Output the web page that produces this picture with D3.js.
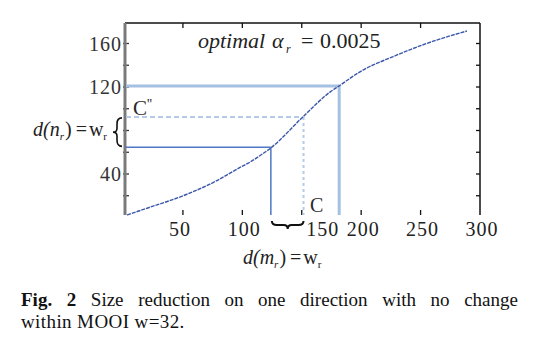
<!DOCTYPE html>
<html><head><meta charset="utf-8">
<script src="https://cdn.jsdelivr.net/npm/d3@7"></script>
<style>
body{margin:0;background:#fff;}
svg{display:block;}
text{font-family:"Liberation Serif","Times New Roman",serif;}
</style></head>
<body><svg id="c" width="535" height="350"></svg>
<script>
// ---- data ----
const curveX = [3, 21, 49, 77, 98, 105, 115, 124, 151, 174, 181.5, 199, 227, 255, 289];
const curveY = [2.3, 9, 19.5, 33, 46, 50, 57, 64, 92.5, 115.5, 121, 134, 148, 160, 171.5];
const boxSolid = [124, 64.5];   // (m, n) lower bound
const boxThick = [181.5, 121];  // upper bound
const boxDash  = [151.5, 92.5]; // C / C'
const xTicks = [50, 100, 150, 200, 250, 300];
const yTicks = [20, 40, 60, 80, 100, 120, 140, 160];
const yTickLabels = [40, 120, 160];
const annoText = "optimal";
const alphaValue = "0.0025";

(function () {
const svg = d3.select("#c");
const x = d3.scaleLinear().domain([0, 300]).range([123.5, 480]);
const y = d3.scaleLinear().domain([0, 180]).range([217.5, 21.75]);
const pTop = 23, pBottom = 215, pLeft = 125, pRight = 480;

// right & top frame
svg.append("line").attr("x1", pLeft).attr("x2", pRight).attr("y1", pTop).attr("y2", pTop)
  .attr("stroke", "#111").attr("stroke-width", 1.5);
svg.append("line").attr("x1", pRight).attr("x2", pRight).attr("y1", pTop).attr("y2", pBottom)
  .attr("stroke", "#111").attr("stroke-width", 1.5);

// ticks (inward)
xTicks.filter(t => t < 300).forEach(t => {
  svg.append("line").attr("x1", x(t)).attr("x2", x(t)).attr("y1", pTop).attr("y2", pTop + 5)
    .attr("stroke", "#111").attr("stroke-width", 1.3);
  svg.append("line").attr("x1", x(t)).attr("x2", x(t)).attr("y1", pBottom).attr("y2", pBottom - 5)
    .attr("stroke", "#111").attr("stroke-width", 1.3);
});
yTicks.forEach(t => {
  svg.append("line").attr("x1", pLeft - 2).attr("x2", pLeft + 4).attr("y1", y(t)).attr("y2", y(t))
    .attr("stroke", "#333").attr("stroke-width", 1.3);
  svg.append("line").attr("x1", pRight).attr("x2", pRight - 4).attr("y1", y(t)).attr("y2", y(t))
    .attr("stroke", "#111").attr("stroke-width", 1.3);
});

// left axis (thick gray)
svg.append("line").attr("x1", pLeft).attr("x2", pLeft).attr("y1", pTop).attr("y2", pBottom)
  .attr("stroke", "#7a7a7a").attr("stroke-width", 3);

// tick labels
svg.selectAll(".xl").data(xTicks).join("text")
  .attr("x", d => x(d) + (d === 150 ? 21 : (d === 50 ? -3 : 2)))
  .attr("y", 236).attr("text-anchor", "middle")
  .attr("font-size", 20).attr("letter-spacing", 1).attr("fill", "#222").text(d => d);
svg.selectAll(".yl").data(yTickLabels).join("text")
  .attr("x", 122).attr("y", d => y(d) + 7).attr("text-anchor", "end")
  .attr("font-size", 20).attr("letter-spacing", 1).attr("fill", "#333").text(d => d);

// guide boxes
function box(b, color, w, dashH, dashV) {
  svg.append("line").attr("x1", pLeft + 1).attr("x2", x(b[0])).attr("y1", y(b[1])).attr("y2", y(b[1]))
    .attr("stroke", color).attr("stroke-width", w).attr("stroke-dasharray", dashH);
  svg.append("line").attr("x1", x(b[0])).attr("x2", x(b[0])).attr("y1", y(b[1])).attr("y2", pBottom)
    .attr("stroke", color).attr("stroke-width", w).attr("stroke-dasharray", dashV);
}
box(boxThick, "#a6c0e2", 3, null, null);
box(boxDash, "#b4cbe9", 2, "5,3", "3,3");
box(boxSolid, "#4e78c4", 1.5, null, null);

// curve
const line = d3.line().x(d => x(d[0])).y(d => y(d[1])).curve(d3.curveMonotoneX);
svg.append("path").datum(curveX.map((v, i) => [v, curveY[i]]))
  .attr("d", line).attr("fill", "none").attr("stroke", "#3a56aa")
  .attr("stroke-width", 1.4).attr("stroke-dasharray", "4,1");

// annotation
svg.append("text").attr("x", 198).attr("y", 48).attr("font-size", 22).attr("font-style", "italic")
  .attr("fill", "#222").text(annoText);
svg.append("text").attr("x", 272).attr("y", 48).attr("font-size", 22).attr("font-style", "italic")
  .attr("fill", "#222").text("α");
svg.append("text").attr("x", 286).attr("y", 53).attr("font-size", 12).attr("font-style", "italic")
  .attr("fill", "#222").text("r");
svg.append("text").attr("x", 301).attr("y", 48).attr("font-size", 22).attr("fill", "#222").text("=");
svg.append("text").attr("x", 320).attr("y", 48).attr("font-size", 22).attr("fill", "#222").text(alphaValue);

// C' and C labels
const cp = svg.append("text").attr("x", 133).attr("y", 115).attr("font-size", 21).attr("fill", "#2a2a2a");
cp.append("tspan").text("C");
cp.append("tspan").attr("font-size", 14).attr("dy", -6).text("''");
svg.append("text").attr("x", 310).attr("y", 212).attr("font-size", 20).attr("fill", "#2a2a2a").text("C");

// braces
const yb0 = y(boxDash[1]) + 1, yb1 = y(boxSolid[1]) - 1, ym = (yb0 + yb1) / 2;
svg.append("path").attr("d",
  `M122,${yb0} Q117,${yb0} 117,${yb0+6} L117,${ym-4} Q117,${ym} 113,${ym} Q117,${ym} 117,${ym+4} L117,${yb1-6} Q117,${yb1} 122,${yb1}`)
  .attr("fill", "none").attr("stroke", "#111").attr("stroke-width", 1.6);
const xb0 = x(boxSolid[0]) + 1, xb1 = x(boxDash[0]), xm = (xb0 + xb1) / 2;
svg.append("path").attr("d",
  `M${xb0},221 Q${xb0},225 ${xb0+5},225 L${xm-4},225 Q${xm},225 ${xm},229 Q${xm},225 ${xm+4},225 L${xb1-5},225 Q${xb1},225 ${xb1},221`)
  .attr("fill", "none").attr("stroke", "#111").attr("stroke-width", 2);

// axis titles
function wLabel(xp, yp, v) {
  const t = svg.append("text").attr("x", xp).attr("y", yp).attr("font-size", 20).attr("fill", "#222");
  t.append("tspan").attr("font-style", "italic").text("d(" + v);
  t.append("tspan").attr("font-size", 11).attr("dy", 4).attr("font-style", "italic").text("r");
  t.append("tspan").attr("dy", -4).attr("dx", 1).text(")");
  t.append("tspan").attr("dx", 4).text("=");
  t.append("tspan").attr("dx", 2).text("w");
  t.append("tspan").attr("font-size", 11).attr("dy", 4).text("r");
}
wLabel(33, 136, "n");
wLabel(243, 264, "m");

// caption
const capY1 = 306, capY2 = 328, capL = 21, capR = 518;
const words = [["Fig.", true], ["2", true], ["Size", false], ["reduction", false], ["on", false],
  ["one", false], ["direction", false], ["with", false], ["no", false], ["change", false]];
const ws = words.map(w => svg.append("text").attr("y", capY1).attr("font-size", 19)
  .attr("font-weight", w[1] ? "bold" : "normal").attr("fill", "#111").text(w[0]));
const widths = ws.map(t => t.node().getComputedTextLength());
const total = widths.reduce((a, b) => a + b, 0);
const gap = (capR - capL - total) / (words.length - 1);
let cx = capL;
ws.forEach((t, i) => { t.attr("x", cx); cx += widths[i] + gap; });
svg.append("text").attr("x", capL).attr("y", capY2).attr("font-size", 19).attr("letter-spacing", 0.4)
  .attr("fill", "#111").text("within MOOI w=32.");
})();
</script></body></html>
